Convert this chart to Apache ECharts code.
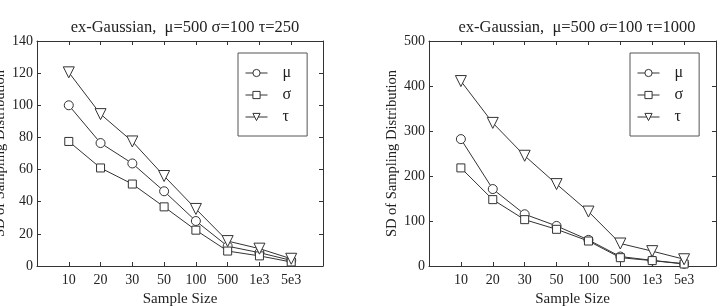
<!DOCTYPE html>
<html>
<head>
<meta charset="utf-8">
<script src="https://cdn.jsdelivr.net/npm/echarts@6/dist/echarts.min.js"></script>
<style>
  html, body { margin: 0; padding: 0; background: #fff; }
  #chart { width: 720px; height: 306px; }
</style>
</head>
<body>
<div id="chart"></div>
<script>
// sample sizes (x categories, placed at 1..8)
var sampleSizes = ["10", "20", "30", "50", "100", "500", "1e3", "5e3"];

// left panel: tau = 250
var muLeft    = [100, 76.5, 63.8, 46.5, 28, 12.3, 8.3, 3.5];
var sigmaLeft = [77.5, 61, 51, 36.8, 22.3, 9.3, 6.3, 2.5];
var tauLeft   = [120.5, 94.5, 77.5, 56, 35.5, 15.5, 10.8, 4.5];

// right panel: tau = 1000
var muRight    = [282, 171, 115, 89, 58, 21, 12.5, 5];
var sigmaRight = [218, 147.5, 103, 81.5, 55.5, 18.5, 12, 4.5];
var tauRight   = [411, 318, 245, 182, 121, 50, 33, 15];

var leftTicks  = { max: 140, interval: 20 };
var rightTicks = { max: 500, interval: 100 };

var fontFam = "Liberation Serif";
var ink = "#333";
var triPath = "path://M0,0 L10,0 L5,9 Z";

function pts(arr) {
  return arr.map(function (v, i) { return [i + 1, v]; });
}

function xAxes(grid) {
  var base = {
    type: "value", gridIndex: grid, min: 0, max: 9, interval: 1,
    axisLine: { show: true, onZero: false, lineStyle: { color: ink, width: 1 } },
    axisTick: { show: true, inside: true, length: 4, lineStyle: { color: ink } },
    splitLine: { show: false }
  };
  var bottom = Object.assign({}, base, {
    position: "bottom",
    name: "Sample Size", nameLocation: "middle", nameGap: 22,
    nameTextStyle: { fontFamily: fontFam, fontSize: 15, color: "#222" },
    axisLabel: {
      margin: 7, fontFamily: fontFam, fontSize: 14, color: "#222",
      formatter: function (v) { return (v >= 1 && v <= 8) ? sampleSizes[v - 1] : ""; }
    }
  });
  var top = Object.assign({}, base, { position: "top", axisLabel: { show: false } });
  return [bottom, top];
}

function yAxes(grid, t, gap) {
  var base = {
    type: "value", gridIndex: grid, min: 0, max: t.max, interval: t.interval,
    axisLine: { show: true, onZero: false, lineStyle: { color: ink, width: 1 } },
    axisTick: { show: true, inside: true, length: 4, lineStyle: { color: ink } },
    splitLine: { show: false }
  };
  var left = Object.assign({}, base, {
    position: "left",
    name: "SD of Sampling Distribution", nameLocation: "middle", nameGap: gap,
    nameTextStyle: { fontFamily: fontFam, fontSize: 14.5, color: "#222" },
    axisLabel: { margin: 4, fontFamily: fontFam, fontSize: 14, color: "#222" }
  });
  var right = Object.assign({}, base, { position: "right", axisLabel: { show: false } });
  return [left, right];
}

function line(name, data, grid, symbol, size) {
  return {
    name: name, type: "line", data: pts(data),
    xAxisIndex: grid * 2, yAxisIndex: grid * 2,
    symbol: symbol, symbolSize: size, showAllSymbol: true,
    lineStyle: { color: ink, width: 1 },
    itemStyle: { color: "#fff", borderColor: ink, borderWidth: 1 },
    emphasis: { disabled: true },
    z: 3
  };
}

function legendBox(left) {
  return {
    orient: "vertical", left: left, top: 53,
    data: ["μ", "σ", "τ"],
    itemWidth: 22, itemHeight: 9, itemGap: 6,
    padding: [12, 16, 11, 7],
    borderColor: "#555", borderWidth: 1,
    backgroundColor: "#fff",
    selectedMode: false,
    lineStyle: { width: 1 },
    itemStyle: { borderWidth: 1 },
    textStyle: { fontFamily: fontFam, fontSize: 16, color: "#222", padding: [0, 0, 0, 10] }
  };
}

var myChart = echarts.init(document.getElementById("chart"));

var option = {
  animation: false,
  backgroundColor: "#fff",
  title: [
    {
      text: "ex-Gaussian,  μ=500 σ=100 τ=250", left: 180, top: 14, textAlign: "center",
      textStyle: { fontFamily: fontFam, fontSize: 16.5, fontWeight: "normal", color: "#222" }
    },
    {
      text: "ex-Gaussian,  μ=500 σ=100 τ=1000", left: 572, top: 14, textAlign: "center",
      textStyle: { fontFamily: fontFam, fontSize: 16.5, fontWeight: "normal", color: "#222" }
    }
  ],
  legend: [legendBox(238), legendBox(630)],
  grid: [
    { left: 37, right: 397, top: 41, bottom: 40, containLabel: false, outerBoundsMode: "none" },
    { left: 429, right: 4, top: 41, bottom: 40, containLabel: false, outerBoundsMode: "none" }
  ],
  xAxis: xAxes(0).concat(xAxes(1)),
  yAxis: yAxes(0, leftTicks, 29).concat(yAxes(1, rightTicks, 28)),
  series: [
    line("μ", muLeft, 0, "circle", 9),
    line("σ", sigmaLeft, 0, "rect", 8),
    line("τ", tauLeft, 0, triPath, 11),
    line("μ", muRight, 1, "circle", 9),
    line("σ", sigmaRight, 1, "rect", 8),
    line("τ", tauRight, 1, triPath, 11)
  ]
};

myChart.setOption(option);
</script>
</body>
</html>
